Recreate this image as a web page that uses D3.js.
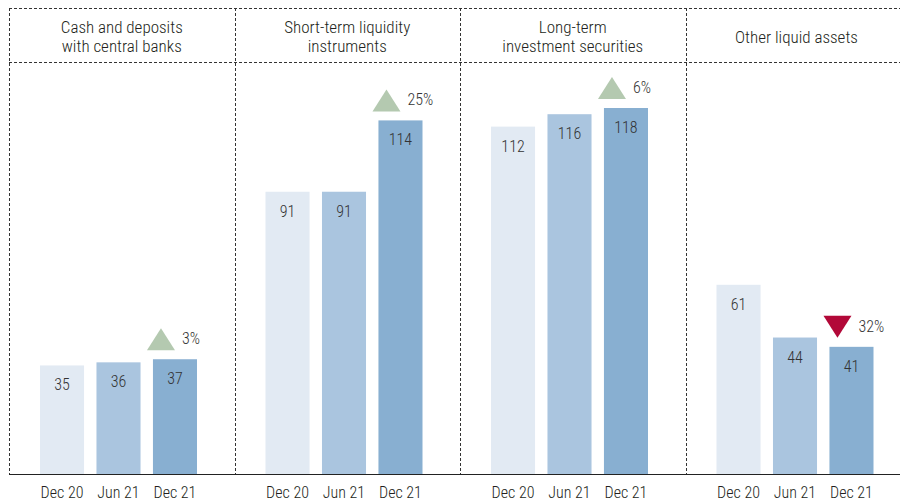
<!DOCTYPE html>
<html>
<head>
<meta charset="utf-8">
<script src="https://cdn.jsdelivr.net/npm/d3@7"></script>
<style>
  body { margin: 0; background: #fff; }
  text { font-family: "Roboto Condensed", "Arial Narrow", sans-serif; font-weight: 300; fill: #231f20; }
</style>
</head>
<body>
<svg id="chart" width="900" height="502"></svg>
<script>
// panels and periods
const categories = [
  ["Cash and deposits", "with central banks"],
  ["Short-term liquidity", "instruments"],
  ["Long-term", "investment securities"],
  ["Other liquid assets"]
];
const periods = ["Dec 20", "Jun 21", "Dec 21"];
// values per panel, one per period
const values = [
  [35, 36, 37],
  [91, 91, 114],
  [112, 116, 118],
  [61, 44, 41]
];
// change shown above the last bar
const changes = ["3%", "25%", "6%", "32%"];
const direction = ["up", "up", "up", "down"];

const colors = ["#e2eaf3", "#aac5df", "#88afd1"];

const svg = d3.select("#chart");
const baseY = 474;

const x0 = d3.scaleBand()
  .domain(d3.range(categories.length))
  .range([9, 911])
  .padding(0);

const x1 = d3.scaleBand()
  .domain(periods)
  .range([31, 188])
  .paddingInner(0.22)
  .paddingOuter(0);

const y = d3.scaleLinear()
  .domain([0, 118])
  .range([baseY, 108]);

// frame: dashed header lines and separators
const dash = "3,2";
svg.append("line").attr("x1", 9).attr("x2", 900).attr("y1", 8.5).attr("y2", 8.5)
  .attr("stroke", "#333").attr("stroke-dasharray", dash);
svg.append("line").attr("x1", 9).attr("x2", 900).attr("y1", 62.5).attr("y2", 62.5)
  .attr("stroke", "#333").attr("stroke-dasharray", dash);
d3.range(categories.length).forEach(i => {
  const xx = Math.round(x0(i)) + 0.5;
  svg.append("line").attr("x1", xx).attr("x2", xx).attr("y1", 8).attr("y2", baseY)
    .attr("stroke", "#333").attr("stroke-dasharray", dash);
});

const panel = svg.selectAll(".panel")
  .data(categories)
  .enter()
  .append("g")
  .attr("class", "panel")
  .attr("transform", (d, i) => `translate(${x0(i)},0)`);

// header titles
panel.each(function (lines, i) {
  const g = d3.select(this);
  const cx = i === 3 ? 111 : x0.bandwidth() / 2;
  const startY = lines.length === 1 ? 43 : 33;
  lines.forEach((t, k) => {
    g.append("text")
      .attr("x", cx)
      .attr("y", startY + k * 19)
      .attr("text-anchor", "middle")
      .style("font-size", "17px")
      .text(t);
  });
});

// bars
panel.each(function (lines, i) {
  const g = d3.select(this);
  const rows = periods.map((p, k) => ({ p: p, v: values[i][k], k: k }));

  g.selectAll("rect")
    .data(rows)
    .enter()
    .append("rect")
    .attr("x", d => x1(d.p))
    .attr("y", d => y(d.v))
    .attr("width", x1.bandwidth())
    .attr("height", d => baseY - y(d.v))
    .attr("fill", d => colors[d.k]);

  g.selectAll(".val")
    .data(rows)
    .enter()
    .append("text")
    .attr("class", "val")
    .attr("x", d => x1(d.p) + x1.bandwidth() / 2)
    .attr("y", d => y(d.v) + 25)
    .attr("text-anchor", "middle")
    .style("font-size", "16px")
    .style("fill", "#333")
    .text(d => d.v);

  g.selectAll(".cat")
    .data(periods)
    .enter()
    .append("text")
    .attr("class", "cat")
    .attr("x", d => x1(d) + x1.bandwidth() / 2)
    .attr("y", 498)
    .attr("text-anchor", "middle")
    .style("font-size", "16px")
    .text(d => d);

  // change marker above last bar
  const last = rows[rows.length - 1];
  const cx = x1(last.p) + x1.bandwidth() / 2 - 14;
  const bottom = y(last.v) - 9;
  const top = bottom - 22;
  const up = direction[i] === "up";
  const tri = up
    ? [[cx - 14, bottom], [cx + 14, bottom], [cx, top]]
    : [[cx - 14, top], [cx + 14, top], [cx, bottom]];
  g.append("path")
    .attr("d", d3.line()(tri) + "Z")
    .attr("fill", up ? "#b4c9b0" : "#b20838");
  g.append("text")
    .attr("x", cx + 21)
    .attr("y", top + 16)
    .style("font-size", "16px")
    .style("fill", "#333")
    .text(changes[i]);
});

// baseline
svg.append("line").attr("x1", 9).attr("x2", 900).attr("y1", baseY + 0.5).attr("y2", baseY + 0.5)
  .attr("stroke", "#222").attr("stroke-width", 1.2);
</script>
</body>
</html>
